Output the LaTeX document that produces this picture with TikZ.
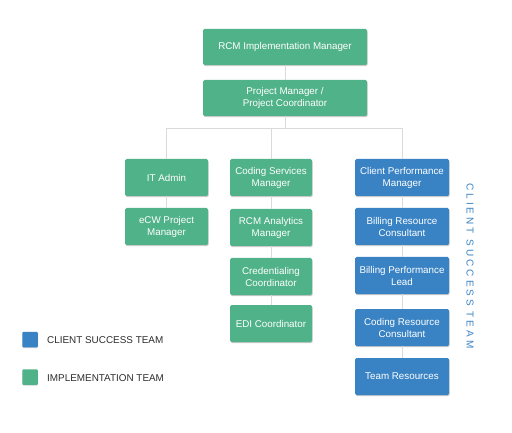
\documentclass[tikz,border=0pt]{standalone}
\usepackage{fontspec}
\setmainfont{Liberation Sans}
\newfontfamily\spacedfont[LetterSpace=30]{Liberation Sans}
\usetikzlibrary{shadows}
\definecolor{impgreen}{RGB}{80,178,136}
\definecolor{csblue}{RGB}{57,131,196}
\definecolor{linegray}{RGB}{218,218,218}
\definecolor{legtext}{RGB}{45,45,45}
\tikzset{
  box/.style={rounded corners=1.5pt, text=white, align=center, font=\fontsize{9.8}{12}\selectfont,
    inner sep=0pt, drop shadow={shadow xshift=0.6pt, shadow yshift=-1.2pt, opacity=0.35, fill=black!60}},
  gbox/.style={box, fill=impgreen},
  bbox/.style={box, fill=csblue},
  conn/.style={draw=linegray, line width=0.6pt},
  legsq/.style={fill=#1, rounded corners=1pt, minimum width=15.5pt, minimum height=15.5pt, inner sep=0pt,
    drop shadow={shadow xshift=0.4pt, shadow yshift=-0.8pt, opacity=0.3, fill=black!60}},
  legtxt/.style={text=legtext, font=\fontsize{9.9}{12}\selectfont, anchor=west, inner sep=0pt}
}
\begin{document}
\begin{tikzpicture}[x=1pt,y=-1pt]
\useasboundingbox (0,0) rectangle (512,433);
% nodes
\node[gbox, minimum width=164pt, minimum height=36pt] (rcm) at (285,47) {RCM Implementation Manager};
\node[gbox, minimum width=164pt, minimum height=36pt] (pm) at (285,98) {Project Manager /\\Project Coordinator};
\node[gbox, minimum width=83pt, minimum height=37pt] (it) at (166.5,177.5) {IT Admin};
\node[gbox, minimum width=83pt, minimum height=37pt] (ecw) at (166.5,226.5) {eCW Project\\Manager};
\node[gbox, minimum width=82pt, minimum height=37pt] (csm) at (271,177.5) {Coding Services\\Manager};
\node[gbox, minimum width=82pt, minimum height=37pt] (ram) at (271,227.5) {RCM Analytics\\Manager};
\node[gbox, minimum width=82pt, minimum height=37pt] (cred) at (271,276.5) {Credentialing\\Coordinator};
\node[gbox, minimum width=82pt, minimum height=37pt] (edi) at (271,323.5) {EDI Coordinator};
\node[bbox, minimum width=94pt, minimum height=37pt] (cpm) at (402,177.5) {Client Performance\\Manager};
\node[bbox, minimum width=94pt, minimum height=37pt] (brc) at (402,226.5) {Billing Resource\\Consultant};
\node[bbox, minimum width=94pt, minimum height=37pt] (bpl) at (402,275.5) {Billing Performance\\Lead};
\node[bbox, minimum width=94pt, minimum height=37pt] (crc) at (402,327.5) {Coding Resource\\Consultant};
\node[bbox, minimum width=94pt, minimum height=37pt] (tr) at (402,376.5) {Team Resources};
% coordinates for the bus
\coordinate (busmid) at (285,128.5);
\coordinate (busc) at (271,128.5);
\coordinate (busl) at (166.5,128.5);
\coordinate (busr) at (402,128.5);
% connectors
\draw[conn] (rcm.south) -- (pm.north);
\draw[conn] (pm.south) -- (busmid);
\draw[conn] (busl) -- (busr);
\draw[conn] (busl) -- (it.north);
\draw[conn] (busc) -- (csm.north);
\draw[conn] (busr) -- (cpm.north);
\draw[conn] (it.south) -- (ecw.north);
\draw[conn] (csm.south) -- (ram.north);
\draw[conn] (ram.south) -- (cred.north);
\draw[conn] (cred.south) -- (edi.north);
\draw[conn] (cpm.south) -- (brc.north);
\draw[conn] (brc.south) -- (bpl.north);
\draw[conn] (bpl.south) -- (crc.north);
\draw[conn] (crc.south) -- (tr.north);
% side label
\node[rotate=-90, text=csblue, font=\spacedfont\fontsize{10}{12}\selectfont, inner sep=0pt] (cst) at (470,266) {CLIENT SUCCESS TEAM};
% legend
\node[legsq=csblue] (lb) at (30,339.5) {};
\node[legtxt] (lbt) at (47,340) {CLIENT SUCCESS TEAM};
\node[legsq=impgreen] (lg) at (30,377) {};
\node[legtxt] (lgt) at (47,378.5) {IMPLEMENTATION TEAM};
\end{tikzpicture}
\end{document}
